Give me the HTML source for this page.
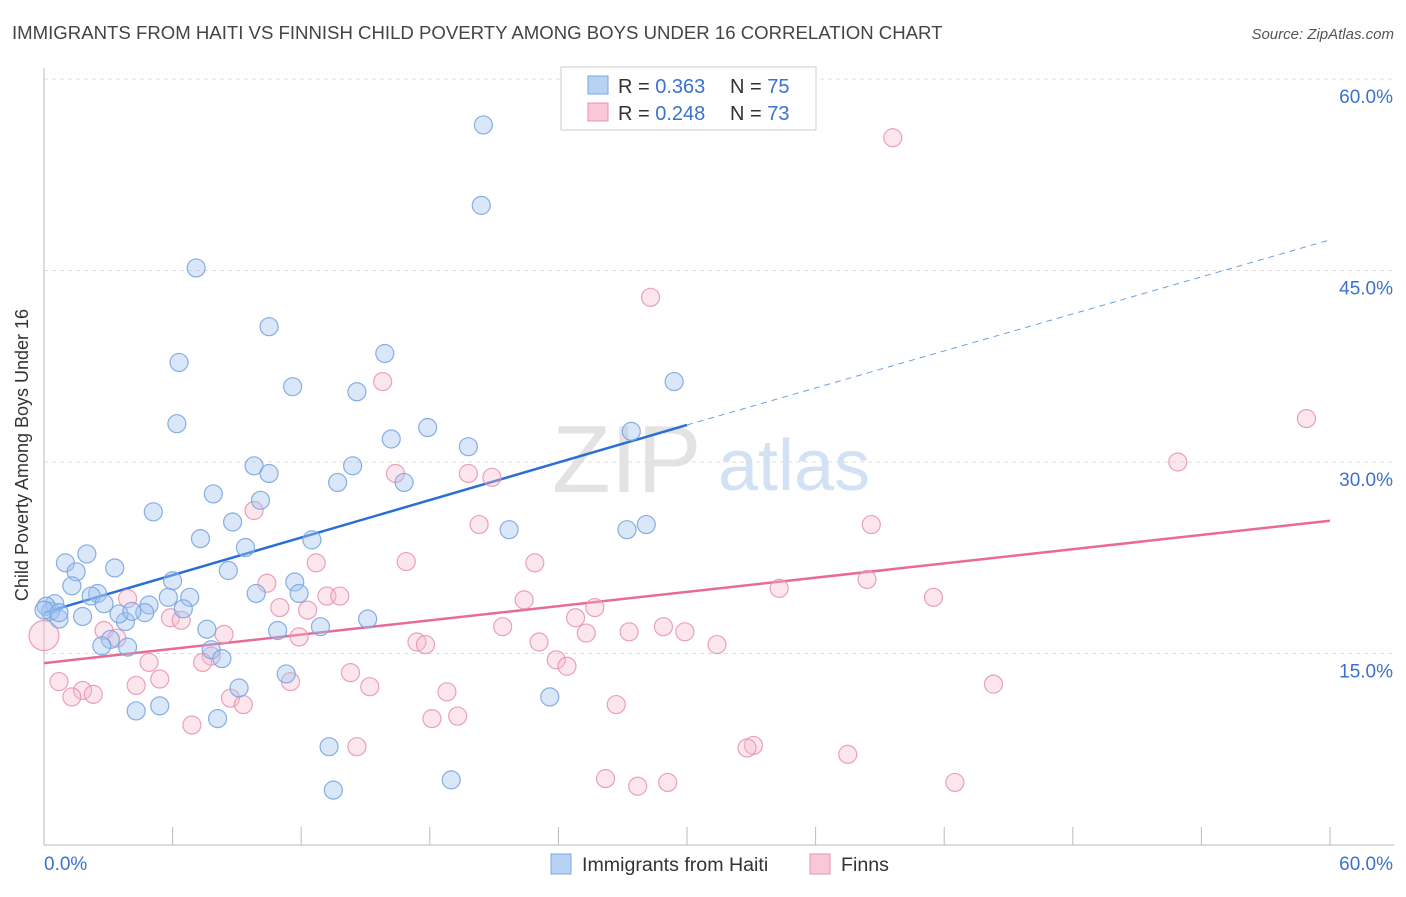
<!DOCTYPE html>
<html><head><meta charset="utf-8"><style>
body{margin:0;background:#fff;font-family:"Liberation Sans",sans-serif}
svg text{font-family:"Liberation Sans",sans-serif}
</style></head><body>
<svg id="chart" width="1406" height="892" viewBox="0 0 1406 892" xmlns="http://www.w3.org/2000/svg">
<text x="12" y="39" font-size="18.6" fill="#444">IMMIGRANTS FROM HAITI VS FINNISH CHILD POVERTY AMONG BOYS UNDER 16 CORRELATION CHART</text>
<text x="1394" y="39" font-size="15" fill="#555" text-anchor="end" font-style="italic">Source: ZipAtlas.com</text>
<text x="552" y="492" font-size="96" fill="#ddd" font-family="Liberation Serif" opacity="0.8">ZIP</text>
<text x="718" y="490" font-size="72" fill="#c8daf2" opacity="0.8">atlas</text>
<g id="grid"></g>
<g id="axes"></g>
<g id="lines"></g>
<g id="pts"></g>
<text transform="translate(28,455) rotate(-90)" font-size="18" fill="#333" text-anchor="middle">Child Poverty Among Boys Under 16</text>
<g>
<rect x="561" y="67" width="255" height="63" fill="#fff" stroke="#ccc"/>
<rect x="588" y="76" width="20" height="18" fill="#b8d2f4" stroke="#7aa8e0"/>
<text x="618" y="93" font-size="20" fill="#333">R = <tspan fill="#3a72d0">0.363</tspan></text>
<text x="730" y="93" font-size="20" fill="#333">N = <tspan fill="#3a72d0">75</tspan></text>
<rect x="588" y="103" width="20" height="18" fill="#f9c8d6" stroke="#e890ae"/>
<text x="618" y="120" font-size="20" fill="#333">R = <tspan fill="#3a72d0">0.248</tspan></text>
<text x="730" y="120" font-size="20" fill="#333">N = <tspan fill="#3a72d0">73</tspan></text>
</g>
<g>
<rect x="551" y="854" width="20" height="20" fill="#b8d2f4" stroke="#7aa8e0"/>
<text x="582" y="871" font-size="19.6" fill="#333">Immigrants from Haiti</text>
<rect x="810" y="854" width="20" height="20" fill="#f9c8d6" stroke="#e890ae"/>
<text x="841" y="871" font-size="19.6" fill="#333">Finns</text>
</g>
</svg>
<script>
const yTicks=[15,30,45,60];
const yTickLabels=["15.0%","30.0%","45.0%","60.0%"];
const xTickLabels=["0.0%","60.0%"];
const blueX=[20.5,20.4,7.1,10.5,6.3,15.9,11.6,14.6,29.4,6.2,17.9,16.2,19.8,27.4,9.8,10.5,14.4,13.7,16.8,7.9,10.1,5.1,8.8,21.7,27.2,28.1,7.3,12.5,9.4,2.0,1.0,1.5,3.3,8.6,6.0,1.3,11.7,2.5,2.2,6.8,5.8,9.9,11.9,2.8,4.9,6.5,0.5,0.3,1.8,0.7,3.8,3.5,4.7,4.1,12.9,7.6,10.9,3.1,2.7,3.9,7.8,8.3,15.1,11.3,9.1,4.3,5.4,8.1,23.6,13.3,19.0,13.5,0.1,0.0,0.7];
const blueY=[56.4,50.1,45.2,40.6,37.8,38.5,35.9,35.5,36.3,33.0,32.7,31.8,31.2,32.4,29.7,29.1,29.7,28.4,28.4,27.5,27.0,26.1,25.3,24.7,24.7,25.1,24.0,23.9,23.3,22.8,22.1,21.4,21.7,21.5,20.7,20.3,20.6,19.7,19.5,19.4,19.4,19.7,19.7,18.9,18.8,18.5,18.9,18.3,17.9,17.7,17.5,18.1,18.2,18.3,17.1,16.9,16.8,16.1,15.6,15.5,15.3,14.6,17.7,13.4,12.3,10.5,10.9,9.9,11.6,7.7,5.1,4.3,18.7,18.4,18.2];
const pinkX=[39.6,28.3,15.8,58.9,52.9,16.4,19.8,20.9,9.8,20.3,38.6,12.7,16.9,22.9,10.4,38.4,34.3,41.5,22.4,13.2,13.8,3.9,25.7,11.0,12.3,5.9,6.4,24.8,21.4,28.9,29.9,27.3,25.3,2.8,8.4,3.4,11.9,23.1,17.4,17.8,31.4,7.8,23.9,24.4,4.9,7.4,14.3,5.4,0.7,4.3,11.5,15.2,44.3,1.8,2.3,1.3,18.8,8.7,9.3,26.7,19.3,18.1,6.9,14.6,33.1,32.8,37.5,26.2,27.7,29.1,42.5,0];
const pinkY=[55.4,42.9,36.3,33.4,30.0,29.1,29.1,28.8,26.2,25.1,25.1,22.1,22.2,22.1,20.5,20.8,20.1,19.4,19.2,19.5,19.5,19.3,18.6,18.6,18.4,17.8,17.6,17.8,17.1,17.1,16.7,16.7,16.6,16.8,16.5,16.2,16.3,15.9,15.9,15.7,15.7,14.8,14.5,14.0,14.3,14.3,13.5,13.0,12.8,12.5,12.8,12.4,12.6,12.1,11.8,11.6,12.0,11.5,11.0,11.0,10.1,9.9,9.4,7.7,7.8,7.6,7.1,5.2,4.6,4.9,4.9,16.4];
const blueTrend=[18.2,32.9,30];
const blueTrendEnd=[60,47.4];
const pinkTrend=[14.25,25.4];
const NS="http://www.w3.org/2000/svg";
const X0=44,X1=1330,Y0=845,Y60=79;
const xs=v=>X0+v*(X1-X0)/60, ys=v=>Y0-v*(Y0-Y60)/60;
function mk(tag,attrs,parent){const e=document.createElementNS(NS,tag);for(const k in attrs)e.setAttribute(k,attrs[k]);parent.appendChild(e);return e;}
const grid=document.getElementById('grid'),axes=document.getElementById('axes'),lines=document.getElementById('lines'),pts=document.getElementById('pts');
yTicks.forEach((t,i)=>{
  const l=mk('line',{x1:X0,x2:1394,y1:ys(t),y2:ys(t),stroke:'#ddd','stroke-dasharray':'4,4'},grid);
  
  
  const tx=mk('text',{x:1393,y:ys(t)+24,'font-size':19,fill:'#3a72d0','text-anchor':'end'},axes);
  tx.textContent=yTickLabels[i];
  
  
});
const xa=mk('line',{x1:X0,x2:1394,y1:Y0,y2:Y0,stroke:'#bbb'},axes);


const ya=mk('line',{x1:X0,x2:X0,y1:68,y2:Y0,stroke:'#bbb'},axes);


for(let i=0;i<=10;i++){
  const t=mk('line',{x1:xs(i*6),x2:xs(i*6),y1:Y0,y2:Y0-18,stroke:'#bbb'},axes);
  
  
}
const xl0=mk('text',{x:44,y:870,'font-size':19,fill:'#3a72d0'},axes);xl0.textContent=xTickLabels[0];


const xl1=mk('text',{x:1393,y:870,'font-size':19,fill:'#3a72d0','text-anchor':'end'},axes);xl1.textContent=xTickLabels[1];


function dots(X,Y,fill,stroke,name,so){X.forEach((x,i)=>{const r=(x===0&&name==='finns-point')?15:9;
  const c=mk('circle',{cx:xs(x),cy:ys(Y[i]),r:r,fill:fill,stroke:stroke,'stroke-width':1.2,'stroke-opacity':so},pts);
  
  });}
dots(pinkX,pinkY,'rgba(246,182,202,0.35)','#e890ae','finns-point',0.85);
dots(blueX,blueY,'rgba(160,196,240,0.4)','#7aa6e0','haiti-point',0.9);
const bl=mk('line',{x1:xs(0),y1:ys(blueTrend[0]),x2:xs(blueTrend[2]),y2:ys(blueTrend[1]),stroke:'#2a6fd6','stroke-width':2.5},lines);


const bd=mk('line',{x1:xs(blueTrend[2]),y1:ys(blueTrend[1]),x2:xs(blueTrendEnd[0]),y2:ys(blueTrendEnd[1]),stroke:'#6f9fdc','stroke-width':1,'stroke-dasharray':'6,5'},lines);


const pl=mk('line',{x1:xs(0),y1:ys(pinkTrend[0]),x2:xs(60),y2:ys(pinkTrend[1]),stroke:'#e86a98','stroke-width':2.5},lines);


</script>
</body></html>
